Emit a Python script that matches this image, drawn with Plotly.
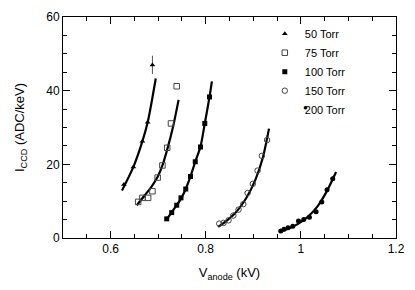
import plotly.graph_objects as go

# ---- data ----
v50 = [0.628, 0.648, 0.667, 0.678, 0.688]
i50 = [14.5, 19.3, 26.3, 31.4, 47.0]
e50 = [0, 0, 0, 0, 2.5]
fit50_v = [0.624, 0.648, 0.667, 0.678, 0.695]
fit50_i = [12.9, 19.3, 26.3, 31.4, 43.3]

v75 = [0.658, 0.667, 0.679, 0.688, 0.699, 0.709, 0.719, 0.727, 0.739]
i75 = [9.8, 10.9, 10.9, 12.7, 16.4, 19.7, 24.5, 31.1, 41.2]
fit75_v = [0.655, 0.672, 0.688, 0.699, 0.709, 0.719, 0.731, 0.743]
fit75_i = [8.9, 11.6, 14.3, 16.6, 19.7, 24.0, 30.0, 37.5]

v100 = [0.718, 0.7285, 0.739, 0.748, 0.758, 0.768, 0.778, 0.789, 0.798, 0.808]
i100 = [5.2, 6.9, 8.9, 10.9, 13.3, 16.7, 20.7, 24.7, 31.1, 38.3]
fit100_v = [0.716, 0.728, 0.739, 0.749, 0.758, 0.768, 0.778, 0.789, 0.798, 0.808, 0.813]
fit100_i = [4.7, 6.9, 8.9, 10.9, 13.3, 16.7, 20.7, 24.8, 31.1, 38.3, 42.5]

v150 = [0.8285, 0.8375, 0.848, 0.858, 0.869, 0.879, 0.888, 0.899, 0.909, 0.918, 0.929]
i150 = [3.9, 4.1, 4.8, 6.1, 7.7, 9.2, 12.2, 14.7, 18.3, 22.3, 26.6]
fit150_v = [0.826, 0.845, 0.865, 0.885, 0.905, 0.920, 0.933]
fit150_i = [3.0, 4.8, 7.2, 10.8, 16.0, 21.8, 29.7]

v200 = [0.9577, 0.9646, 0.973, 0.983, 0.995, 1.006, 1.018, 1.032, 1.044, 1.055, 1.067]
i200 = [1.9, 2.4, 2.8, 3.2, 4.6, 5.0, 5.6, 7.1, 9.8, 13.1, 16.1]
fit200_v = [0.954, 0.975, 0.995, 1.015, 1.035, 1.055, 1.074]
fit200_i = [1.7, 2.6, 3.9, 5.8, 8.6, 12.8, 17.9]

names = ["50 Torr", "75 Torr", "100 Torr", "150 Torr", "200 Torr"]
x_ticks = [0.6, 0.8, 1.0, 1.2]
x_ticklabels = ["0.6", "0.8", "1", "1.2"]
y_ticks = [0, 20, 40, 60]

FONT = "Liberation Sans, Arial, Helvetica, sans-serif"

fig = go.Figure()

fits = [(fit50_v, fit50_i), (fit75_v, fit75_i), (fit100_v, fit100_i),
        (fit150_v, fit150_i), (fit200_v, fit200_i)]
for fv, fi in fits:
    fig.add_trace(go.Scatter(x=fv, y=fi, mode="lines", showlegend=False,
                             line=dict(color="black", width=2.2, shape="spline", smoothing=0.8),
                             hoverinfo="skip"))

m50 = dict(symbol="triangle-up", size=5, color="black")
m75 = dict(symbol="square-open", size=5.5, color="#444", line=dict(width=1))
m100 = dict(symbol="square", size=5, color="black")
m150 = dict(symbol="circle-open", size=5.5, color="#444", line=dict(width=1))
m200 = dict(symbol="circle", size=5, color="black")

fig.add_trace(go.Scatter(x=v50, y=i50, mode="markers", showlegend=False, marker=m50,
                         error_y=dict(type="data", array=e50, color="#555", thickness=1, width=0)))
fig.add_trace(go.Scatter(x=v75, y=i75, mode="markers", showlegend=False, marker=m75))
fig.add_trace(go.Scatter(x=v100, y=i100, mode="markers", showlegend=False, marker=m100))
fig.add_trace(go.Scatter(x=v150, y=i150, mode="markers", showlegend=False, marker=m150))
fig.add_trace(go.Scatter(x=v200, y=i200, mode="markers", showlegend=False, marker=m200))

# legend-only entries (the reference's 200 Torr symbol sits on top of its text)
m200_leg = dict(symbol="circle", size=5, color="rgba(0,0,0,0)")
for nm, mk in zip(names, [m50, m75, m100, m150, m200_leg]):
    fig.add_trace(go.Scatter(x=[None], y=[None], mode="markers", name=nm, marker=mk))

axis_common = dict(showline=True, linecolor="black", linewidth=1, mirror="allticks",
                   ticks="inside", ticklen=7, tickcolor="black", showgrid=False,
                   zeroline=False, tickfont=dict(family=FONT, size=12, color="black"))

fig.update_xaxes(range=[0.5, 1.2], tickvals=x_ticks, ticktext=x_ticklabels,
                 minor=dict(dtick=0.05, ticks="inside", ticklen=4, tickcolor="black"),
                 title=dict(text="V<sub>anode</sub> (kV)", font=dict(family=FONT, size=13, color="black"),
                            standoff=12),
                 **axis_common)
fig.update_yaxes(range=[0, 60], tickvals=y_ticks,
                 minor=dict(dtick=5, ticks="inside", ticklen=4, tickcolor="black"),
                 title=dict(text="I<sub>CCD</sub> (ADC/keV)", font=dict(family=FONT, size=13, color="black"),
                            standoff=18),
                 **axis_common)

fig.add_annotation(x=0.742, y=0.592, xref="paper", yref="paper", text="●",
                   showarrow=False, font=dict(family=FONT, size=8, color="black"))

fig.update_layout(
    width=415, height=290,
    margin=dict(l=63, r=17, t=10, b=52),
    paper_bgcolor="white", plot_bgcolor="white",
    font=dict(family=FONT, size=12, color="black"),
    legend=dict(x=0.606, y=0.99, xanchor="left", yanchor="top",
                bgcolor="rgba(0,0,0,0)", borderwidth=0,
                font=dict(family=FONT, size=11, color="black"),
                tracegroupgap=0, itemwidth=30),
)

fig.write_html("out.html", config={"displayModeBar": False},
               post_script="document.body.style.margin='0';")
